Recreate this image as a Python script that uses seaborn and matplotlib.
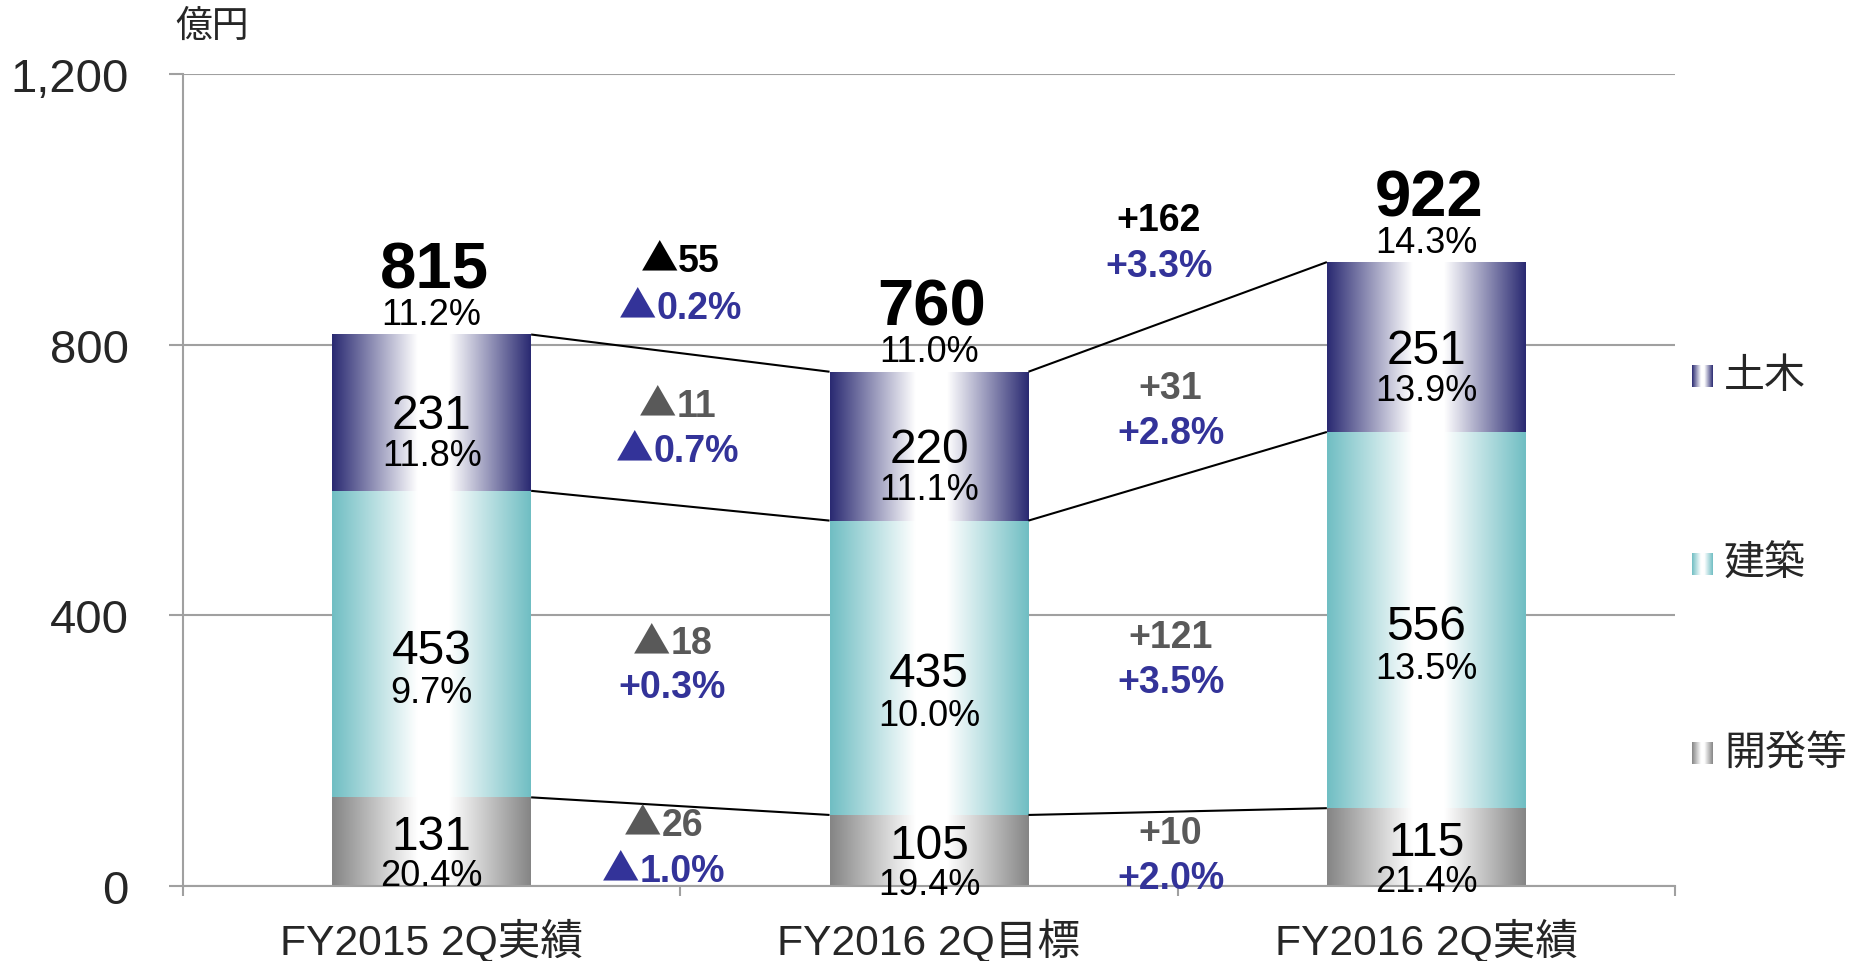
import numpy as np
import pandas as pd
import matplotlib
matplotlib.use("Agg")
import matplotlib.pyplot as plt
import seaborn as sns
from matplotlib.colors import LinearSegmentedColormap
from matplotlib.offsetbox import TextArea, HPacker, AnnotationBbox

# ---------------- data ----------------
categories = ["FY2015 2Q実績", "FY2016 2Q目標", "FY2016 2Q実績"]
segments = ["開発等", "建築", "土木"]          # bottom -> top
dev_vals = [131, 105, 115]
arch_vals = [453, 435, 556]
civil_vals = [231, 220, 251]
dev_pct = ["20.4%", "19.4%", "21.4%"]
arch_pct = ["9.7%", "10.0%", "13.5%"]
civil_pct = ["11.8%", "11.1%", "13.9%"]
total_pct = ["11.2%", "11.0%", "14.3%"]

# differences between consecutive bars (gap 1, gap 2)
gap_total_val = ["▲55", "+162"]
gap_total_pct = ["▲0.2%", "+3.3%"]
gap_civil_val = ["▲11", "+31"]
gap_civil_pct = ["▲0.7%", "+2.8%"]
gap_arch_val = ["▲18", "+121"]
gap_arch_pct = ["+0.3%", "+3.5%"]
gap_dev_val = ["▲26", "+10"]
gap_dev_pct = ["▲1.0%", "+2.0%"]

yticks = [0, 400, 800, 1200]

# ---------------- style ----------------
seg_colors = {"開発等": "#858585", "建築": "#70BEC3", "土木": "#2A2A72"}
blue = "#333399"
grey_txt = "#595959"
axis_grey = "#A0A0A0"
LATIN = ["Liberation Sans", "Noto Sans CJK JP", "DejaVu Sans"]

sns.set_theme(style="white")
plt.rcParams["font.family"] = LATIN

W, H = 1853, 962
fig = plt.figure(figsize=(W / 100, H / 100), dpi=100)
ax = fig.add_axes([183 / W, (H - 887) / H, (1675 - 183) / W, (887 - 75) / H])


def grad_cmap(c):
    return LinearSegmentedColormap.from_list(
        "g", [(0, c), (0.43, "white"), (0.59, "white"), (1, c)])


grad = np.linspace(0, 1, 256)[None, :]

df = pd.DataFrame({
    "cat": categories * 3,
    "seg": [s for s in segments for _ in categories],
    "val": dev_vals + arch_vals + civil_vals,
})

seg_values = {"開発等": dev_vals, "建築": arch_vals, "土木": civil_vals}
bottoms = np.zeros(len(categories))
seg_patches = {}
for seg in segments:
    n0 = len(ax.patches)
    sns.barplot(data=df[df.seg == seg], x="cat", y="val", order=categories,
                width=0.4, color=seg_colors[seg], saturation=1, ax=ax,
                errorbar=None, zorder=2)
    new = ax.patches[n0:]
    vals = np.array(seg_values[seg], dtype=float)
    for p, b in zip(new, bottoms):
        p.set_y(b)
    seg_patches[seg] = list(new)
    bottoms = bottoms + vals

# gradient fill
for seg in segments:
    cm = grad_cmap(seg_colors[seg])
    for p in seg_patches[seg]:
        x0, w = p.get_x(), p.get_width()
        y0, h = p.get_y(), p.get_height()
        ax.imshow(grad, cmap=cm, extent=[x0, x0 + w, y0, y0 + h],
                  aspect="auto", interpolation="bilinear", zorder=2)
        p.set_facecolor("none")
        p.set_edgecolor("none")

# connector lines
cum = np.cumsum(np.array([dev_vals, arch_vals, civil_vals], dtype=float), axis=0)
ref = seg_patches["開発等"]
for i in range(len(categories) - 1):
    xr = ref[i].get_x() + ref[i].get_width()
    xl = ref[i + 1].get_x()
    for level in cum:
        ax.plot([xr, xl], [level[i], level[i + 1]], color="black", lw=1.5,
                zorder=3, solid_capstyle="butt")

# axes styling
ax.set_xlim(-0.5, len(categories) - 0.5)
ax.set_ylim(0, 1200)
ax.set_yticks(yticks)
ax.set_yticklabels([f"{v:,}" for v in yticks])
ax.yaxis.grid(True, color=axis_grey, lw=1.5, zorder=0)
ax.set_axisbelow(True)
for s in ["top", "right"]:
    ax.spines[s].set_visible(False)
for s in ["left", "bottom"]:
    ax.spines[s].set_color(axis_grey)
    ax.spines[s].set_linewidth(1.5)
ax.tick_params(axis="y", which="major", direction="out", length=10,
               width=1.5, color=axis_grey, labelsize=34, pad=29, left=True)
ax.set_xticks(range(len(categories)))
ax.set_xticklabels(categories, fontsize=30.7)
ax.set_xticks(np.arange(-0.5, len(categories), 1.0), minor=True)
ax.tick_params(axis="x", which="major", length=0, pad=23)
ax.tick_params(axis="x", which="minor", direction="out", length=7,
               width=1.5, color=axis_grey, bottom=True)
ax.set_xlabel("")
ax.set_ylabel("")

# ---------------- labels on bars ----------------
seg_pct = {"開発等": dev_pct, "建築": arch_pct, "土木": civil_pct}
seg_off = {"開発等": (5, -34), "建築": (-6, -48), "土木": (-3, -43)}  # px offsets
for seg in segments:
    dv, dp = seg_off[seg]
    for i, p in enumerate(seg_patches[seg]):
        xc = p.get_x() + p.get_width() / 2
        ym = p.get_y() + p.get_height() / 2
        ax.annotate(f"{seg_values[seg][i]}", (xc, ym), xytext=(0, dv),
                    textcoords="offset pixels", ha="center", va="center",
                    fontsize=34.5, color="black", zorder=5)
        ax.annotate(seg_pct[seg][i], (xc, ym), xytext=(0, dp),
                    textcoords="offset pixels", ha="center", va="center",
                    fontsize=26, color="black", zorder=5)

totals = cum[-1]
for i, p in enumerate(seg_patches["土木"]):
    xc = p.get_x() + p.get_width() / 2
    ax.annotate(f"{int(totals[i])}", (xc, totals[i]), xytext=(3, 64),
                textcoords="offset pixels", ha="center", va="center",
                fontsize=47, fontweight="bold", color="black", zorder=5)
    ax.annotate(total_pct[i], (xc, totals[i]), xytext=(0, 20),
                textcoords="offset pixels", ha="center", va="center",
                fontsize=26, color="black", zorder=5)


# ---------------- gap labels (big ▲ from CJK font) ----------------
def mixed_label(xy, offset, s, fontsize, color):
    parts = []
    if s.startswith("▲"):
        parts.append(TextArea("▲", textprops=dict(
            fontsize=fontsize, color=color, fontweight="bold",
            family=["Noto Sans CJK JP", "DejaVu Sans"])))
        s = s[1:]
    parts.append(TextArea(s, textprops=dict(
        fontsize=fontsize, color=color, fontweight="bold", family=LATIN)))
    box = HPacker(children=parts, align="baseline", pad=0, sep=0)
    ab = AnnotationBbox(box, xy, xybox=offset, boxcoords="offset pixels",
                        frameon=False, box_alignment=(0.5, 0.5), pad=0,
                        zorder=5, xycoords="data")
    ax.add_artist(ab)


mids = {}
lower = np.zeros(len(categories))
for seg, row in zip(segments, cum):
    mids[seg] = (lower + row) / 2
    lower = row
mids["total"] = cum[-1]

gap_texts = {
    "total": (gap_total_val, gap_total_pct, "black"),
    "土木": (gap_civil_val, gap_civil_pct, grey_txt),
    "建築": (gap_arch_val, gap_arch_pct, grey_txt),
    "開発等": (gap_dev_val, gap_dev_pct, grey_txt),
}
# (dx, dy value, dy pct) in pixels for gap 1 and gap 2
gap_layout = {
    "total": [(0, 94, 47), (-19, 97, 51)],
    "土木": [(-3, 25, -20), (-7, 9, -36)],
    "建築": [(-8, 14, -31), (-7, 7, -38)],
    "開発等": [(-17, 23, -23), (-7, 16, -29)],
}
for key, (vals, pcts, vcol) in gap_texts.items():
    m = mids[key]
    for g in range(len(categories) - 1):
        xg = g + 0.5
        yg = (m[g] + m[g + 1]) / 2
        dx, dyv, dyp = gap_layout[key][g]
        mixed_label((xg, yg), (dx, dyv), vals[g], 27, vcol)
        mixed_label((xg, yg), (dx, dyp), pcts[g], 27, blue)

# unit label
fig.text(175 / W, 1 - 27 / H, "億円", fontsize=26.5, ha="left", va="center")

# ---------------- legend (manual, gradient markers) ----------------
leg_items = [("土木", 377), ("建築", 565), ("開発等", 754)]
for name, yc in leg_items:
    lax = fig.add_axes([1692 / W, 1 - (yc + 11) / H, 21 / W, 22 / H])
    lax.imshow(grad, cmap=grad_cmap(seg_colors[name]), aspect="auto",
               interpolation="bilinear")
    lax.set_axis_off()
    fig.text(1724 / W, 1 - yc / H, name, fontsize=29.5, ha="left", va="center")

fig.savefig("out.png", dpi=100)
